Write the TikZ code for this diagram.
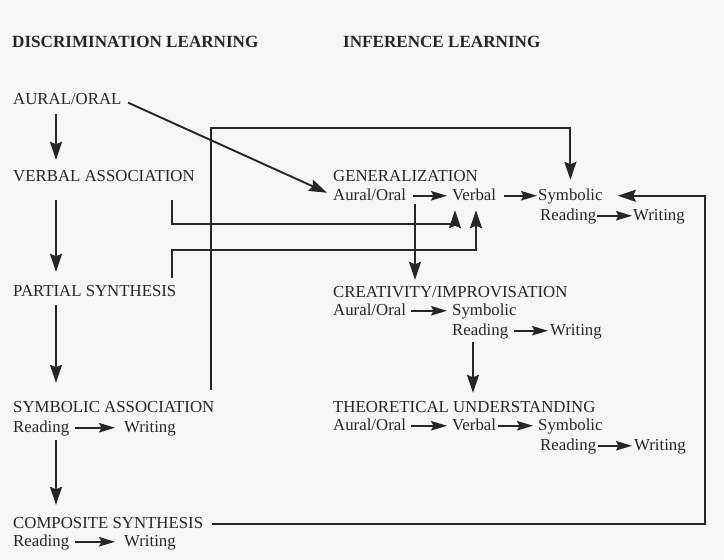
\documentclass[tikz,border=0pt]{standalone}
\usepackage{fontspec}
\setmainfont{Liberation Serif}
\usetikzlibrary{arrows.meta}
\definecolor{ink}{HTML}{262626}
\definecolor{paper}{HTML}{F6F6F6}
\tikzset{
  txt/.style={anchor=base west, inner sep=0pt, text height=12pt, text depth=3.5pt,
    font=\fontsize{16.8}{19}\selectfont, text=ink},
  head/.style={txt, font=\fontsize{17.1}{19}\selectfont\bfseries},
  conn/.style={draw=ink, line width=1.9pt, -{Stealth[length=18pt,width=12pt,inset=2.5pt]}},
  inarr/.style={draw=ink, line width=1.5pt, -{Stealth[length=16pt,width=9.5pt,inset=2.5pt]}}
}
\begin{document}
\begin{tikzpicture}[x=1pt,y=-1pt]
\fill[paper] (0,0) rectangle (724,560);
\useasboundingbox (0,0) rectangle (724,560);
% headings
\node[head] (hd1) at (12,47) {DISCRIMINATION LEARNING};
\node[head] (hd2) at (343,47) {INFERENCE LEARNING};
% left column
\node[txt] (ao) at (13,104) {AURAL/ORAL};
\node[txt] (va) at (13,181) {VERBAL ASSOCIATION};
\node[txt] (ps) at (13,296) {PARTIAL SYNTHESIS};
\node[txt] (sa) at (13,412) {SYMBOLIC ASSOCIATION};
\node[txt] (saR) at (13,432) {Reading};
\node[txt] (saW) at (124,432) {Writing};
\node[txt] (cs) at (13,528) {COMPOSITE SYNTHESIS};
\node[txt] (csR) at (13,546) {Reading};
\node[txt] (csW) at (124,546) {Writing};
% generalization
\node[txt] (gen) at (333,181) {GENERALIZATION};
\node[txt] (gAO) at (333,200) {Aural/Oral};
\node[txt] (gV) at (452,200) {Verbal};
\node[txt] (gS) at (538,200) {Symbolic};
\node[txt] (gR) at (540,220) {Reading};
\node[txt] (gW) at (633,220) {Writing};
% creativity
\node[txt] (cre) at (333,297) {CREATIVITY/IMPROVISATION};
\node[txt] (cAO) at (333,315) {Aural/Oral};
\node[txt] (cS) at (452,315) {Symbolic};
\node[txt] (cR) at (452,335) {Reading};
\node[txt] (cW) at (550,335) {Writing};
% theoretical
\node[txt] (th) at (333,412) {THEORETICAL UNDERSTANDING};
\node[txt] (tAO) at (333,430) {Aural/Oral};
\node[txt] (tV) at (452,430) {Verbal};
\node[txt] (tS) at (538,430) {Symbolic};
\node[txt] (tR) at (540,450) {Reading};
\node[txt] (tW) at (634,450) {Writing};
% helper coordinates
\coordinate (lx) at (56,0);
\coordinate (boxL) at (211,128);
\coordinate (vaL) at (172,224);
\coordinate (psL) at (172,250);
\coordinate (vaTip) at (455,0);
\coordinate (psTip) at (476,0);
\coordinate (gDown) at (415,204);
\coordinate (loopR) at (705,0);
\coordinate (cDown) at (473,0);
% left vertical arrows
\draw[conn, shorten <=6.5pt, shorten >=9pt] (ao.south -| lx) -- (va.north -| lx);
\draw[conn, shorten <=15.5pt, shorten >=12pt] (va.south -| lx) -- (ps.north -| lx);
\draw[conn, shorten <=5.5pt, shorten >=17pt] (ps.south -| lx) -- (sa.north -| lx);
\draw[conn, shorten <=4.5pt, shorten >=11pt] (saR.south -| lx) -- (cs.north -| lx);
% diagonal
\draw[conn, shorten <=7pt] (ao.east) -- ([xshift=-6pt,yshift=3pt]gAO.west);
% big box from symbolic association to generalization symbolic
\draw[conn, shorten <=10pt, shorten >=8pt] (sa.north -| boxL) -- (boxL) -| (gS.north);
% verbal association and partial synthesis to verbal
\draw[conn, shorten <=15.5pt, shorten >=6.5pt] (va.south -| vaL) -- (vaL) -| (gV.south -| vaTip);
\draw[conn, shorten <=6pt, shorten >=6.5pt] (ps.north -| psL) -- (psL) -| (gV.south -| psTip);
% composite synthesis loop
\draw[conn, shorten <=9pt, shorten >=15pt] (cs.east) -- (cs.east -| loopR) -- (loopR |- gS.east) -- (gS.east);
% vertical arrows on right
\draw[conn, shorten >=5pt] (gDown) -- (gDown |- cre.north);
\draw[conn, shorten <=3pt, shorten >=7pt] (cR.south -| cDown) -- (cDown |- th.north);
% inline arrows
\draw[inarr, shorten <=6pt, shorten >=9pt] (saR.east) -- (saW.west);
\draw[inarr, shorten <=6pt, shorten >=9pt] (csR.east) -- (csW.west);
\draw[inarr, shorten <=7pt, shorten >=5pt] (gAO.east) -- (gV.west);
\draw[inarr, shorten <=8pt, shorten >=1pt] (gV.east) -- (gS.west);
\draw[inarr, shorten <=1pt, shorten >=1pt] (gR.east) -- (gW.west);
\draw[inarr, shorten <=5pt, shorten >=5pt] (cAO.east) -- (cS.west);
\draw[inarr, shorten <=6pt, shorten >=2pt] (cR.east) -- (cW.west);
\draw[inarr, shorten <=5pt, shorten >=5pt] (tAO.east) -- (tV.west);
\draw[inarr, shorten <=2pt, shorten >=5pt] (tV.east) -- (tS.west);
\draw[inarr, shorten <=2pt, shorten >=2pt] (tR.east) -- (tW.west);
\end{tikzpicture}
\end{document}
